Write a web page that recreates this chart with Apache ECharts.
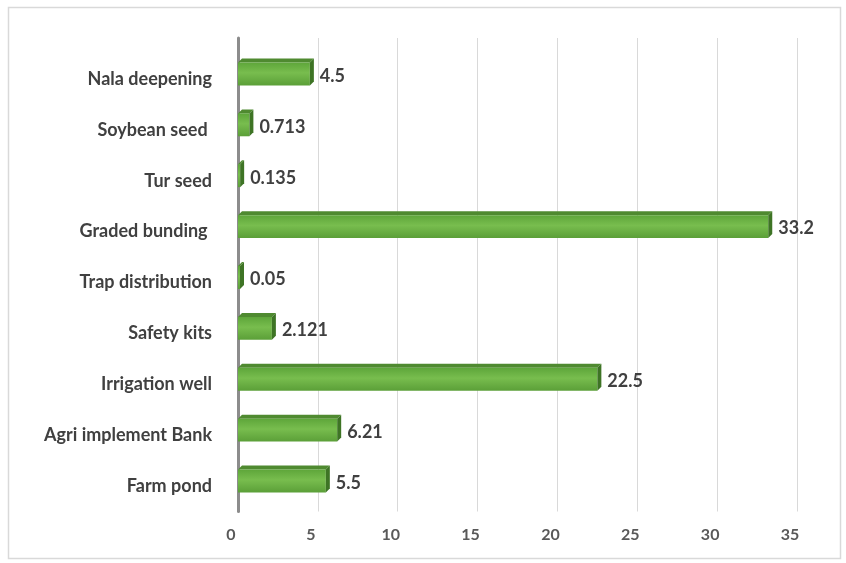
<!DOCTYPE html>
<html>
<head>
<meta charset="utf-8">
<script src="https://cdn.jsdelivr.net/npm/echarts@6/dist/echarts.min.js"></script>
<style>
html,body{margin:0;padding:0;background:#fff;}
#chart{width:846px;height:563px;}
</style>
</head>
<body>
<div id="chart"></div>
<script>
const categories = ['Farm pond', 'Agri implement Bank', 'Irrigation well', 'Safety kits', 'Trap distribution', 'Graded bunding ', 'Tur seed', 'Soybean seed ', 'Nala deepening'];
const values = [5.5, 6.21, 22.5, 2.121, 0.05, 33.2, 0.135, 0.713, 4.5];
const xTicks = [0, 5, 10, 15, 20, 25, 30, 35];

const chart = echarts.init(document.getElementById('chart'));
const FONT = 'Lato, "Open Sans", sans-serif';

function renderBar(params, api) {
  const idx = api.value(0);
  const v = api.value(1);
  const p0 = api.coord([0, idx]);
  const p1 = api.coord([v, idx]);
  const band = api.size([0, 1])[1];
  const h = band * 0.45;
  const d = 4;
  const x0 = p0[0], x1 = Math.max(p1[0], p0[0] + 2), yc = p0[1] - 5;
  const yt = yc - h / 2, yb = yc + h / 2;
  return {
    type: 'group',
    children: [
      {
        type: 'polygon',
        shape: { points: [[x0, yt], [x1, yt], [x1 + d, yt - d], [x0 + d, yt - d]] },
        style: { fill: '#4f8a30' }
      },
      {
        type: 'rect',
        shape: { x: x0, y: yt, width: x1 - x0, height: h },
        style: {
          fill: new echarts.graphic.LinearGradient(0, 0, 0, 1, [
            { offset: 0, color: '#5ea63a' },
            { offset: 0.45, color: '#78bd4e' },
            { offset: 1, color: '#5b9f38' }
          ])
        }
      },
      {
        type: 'polygon',
        shape: { points: [[x1, yt], [x1 + d, yt - d], [x1 + d, yb - d], [x1, yb]] },
        style: { fill: '#3e7425' }
      },
      {
        type: 'text',
        style: {
          x: x1 + d + 6, y: yc + 2,
          text: String(v),
          fill: '#404040',
          font: 'bold 18px ' + FONT,
          verticalAlign: 'middle',
          align: 'left'
        }
      }
    ]
  };
}

chart.setOption({
  animation: false,
  backgroundColor: '#fff',
  graphic: [{
    type: 'rect',
    shape: { x: 8.5, y: 7.5, width: 832, height: 551 },
    style: { fill: 'none', stroke: '#d9d9d9', lineWidth: 1.5 },
    z: -10
  }],
  grid: [
    { left: 238, right: 49, top: 53.5, bottom: 51.5 },
    { left: 238, right: 49, top: 38, bottom: 51.5 }
  ],
  xAxis: [{
    type: 'value',
    gridIndex: 0,
    min: 0,
    max: 35,
    interval: 5,
    axisLine: { show: false },
    axisTick: { show: false },
    splitLine: { show: false },
    axisLabel: {
      margin: 15,
      padding: [0, 14, 0, 0],
      color: '#595959',
      fontFamily: FONT,
      fontWeight: 'bold',
      fontSize: 16,
      formatter: function (v) { return xTicks.indexOf(v) >= 0 ? String(v) : ''; }
    }
  }, {
    type: 'value',
    gridIndex: 1,
    min: 0,
    max: 35,
    interval: 5,
    axisLine: { show: false },
    axisTick: { show: false },
    axisLabel: { show: false },
    splitLine: { show: true, lineStyle: { color: '#d9d9d9', width: 1 } }
  }],
  yAxis: [{
    type: 'category',
    gridIndex: 0,
    data: categories,
    axisLine: { show: false },
    axisTick: { show: false },
    splitLine: { show: false },
    axisLabel: {
      margin: 26,
      color: '#404040',
      fontFamily: FONT,
      fontWeight: 'bold',
      fontSize: 18
    }
  }, {
    type: 'value',
    gridIndex: 1,
    min: 0,
    max: 1,
    axisLabel: { show: false },
    axisTick: { show: false },
    splitLine: { show: false },
    axisLine: { show: true, lineStyle: { color: '#8c8c8c', width: 3 } }
  }],
  series: [{
    type: 'custom',
    xAxisIndex: 0,
    yAxisIndex: 0,
    renderItem: renderBar,
    encode: { x: 1, y: 0 },
    data: values.map((v, i) => [i, v]),
    z: 5
  }]
});
</script>
</body>
</html>
